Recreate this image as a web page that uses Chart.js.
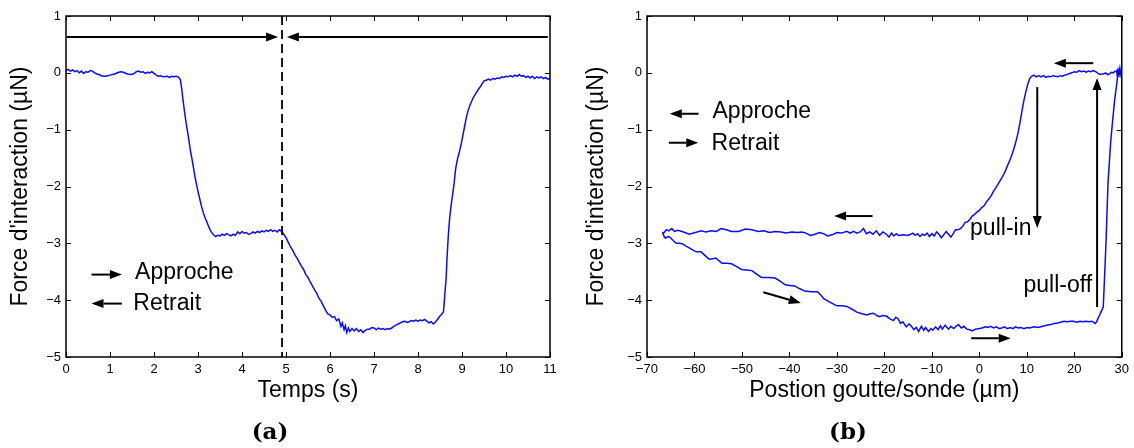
<!DOCTYPE html>
<html>
<head>
<meta charset="utf-8">
<script src="https://cdn.jsdelivr.net/npm/chart.js@4.4.1/dist/chart.umd.min.js"></script>
<style>
  body { margin: 0; background: #fff; width: 1134px; height: 448px; position: relative; overflow: hidden; }
  .panel { position: absolute; top: 0; width: 567px; height: 448px; }
</style>
</head>
<body>
<div class="panel" style="left:0"><canvas id="chartA" width="567" height="448"></canvas></div>
<div class="panel" style="left:567px"><canvas id="chartB" width="567" height="448"></canvas></div>
<script>
// (a) force vs time
const timeS = [
  0.00, 0.05, 0.10, 0.15, 0.20, 0.25, 0.30, 0.35, 0.40, 0.45, 0.50, 0.55, 0.60, 0.65, 0.70, 0.75, 0.80, 0.85, 0.90, 0.95,
  1.00, 1.10, 1.20, 1.25, 1.30, 1.40, 1.50, 1.55, 1.60, 1.65, 1.70, 1.75, 1.80, 1.85, 1.90, 1.95, 2.00, 2.05, 2.10, 2.15,
  2.20, 2.30, 2.35, 2.40, 2.45, 2.50, 2.55, 2.60, 2.63, 2.66, 2.70, 2.73, 2.77, 2.80, 2.83, 2.86, 2.90, 2.93, 2.97, 3.01,
  3.05, 3.08, 3.12, 3.16, 3.20, 3.25, 3.30, 3.35, 3.40, 3.45, 3.50, 3.55, 3.60, 3.65, 3.70, 3.75, 3.80, 3.85, 3.90, 3.95,
  4.00, 4.05, 4.10, 4.15, 4.20, 4.25, 4.30, 4.35, 4.40, 4.45, 4.50, 4.55, 4.60, 4.65, 4.70, 4.75, 4.80, 4.85, 4.90, 4.95,
  5.00, 5.05, 5.10, 5.15, 5.20, 5.25, 5.30, 5.35, 5.40, 5.45, 5.50, 5.55, 5.60, 5.65, 5.70, 5.75, 5.80, 5.85, 5.90, 5.95,
  6.00, 6.05, 6.10, 6.15, 6.20, 6.25, 6.28, 6.32, 6.35, 6.38, 6.42, 6.45, 6.50, 6.55, 6.60, 6.65, 6.70, 6.75, 6.80, 6.85,
  6.90, 6.95, 7.00, 7.05, 7.10, 7.15, 7.20, 7.25, 7.30, 7.35, 7.40, 7.45, 7.50, 7.55, 7.60, 7.65, 7.70, 7.75, 7.80, 7.85,
  7.90, 7.95, 8.00, 8.05, 8.10, 8.15, 8.20, 8.25, 8.30, 8.35, 8.40, 8.45, 8.50, 8.55, 8.58, 8.60, 8.62, 8.64, 8.66, 8.69,
  8.72, 8.75, 8.78, 8.82, 8.85, 8.88, 8.91, 8.95, 8.99, 9.03, 9.07, 9.10, 9.14, 9.18, 9.22, 9.26, 9.30, 9.34, 9.38, 9.42,
  9.46, 9.50, 9.55, 9.60, 9.65, 9.70, 9.75, 9.80, 9.85, 9.90, 9.95, 10.00, 10.05, 10.10, 10.15, 10.20, 10.25, 10.30, 10.35, 10.40,
  10.45, 10.50, 10.55, 10.60, 10.65, 10.70, 10.75, 10.80, 10.85, 10.90, 10.95, 11.00
];
const forceA = [
  0.04, 0.06, 0.03, 0.05, 0.02, 0.04, 0.00, 0.03, -0.01, 0.02, 0.01, 0.04, 0.03, 0.00, -0.02, -0.03, -0.05, -0.06, -0.06, -0.05,
  -0.04, -0.02, 0.01, 0.02, 0.01, -0.02, -0.03, -0.01, 0.02, 0.03, 0.01, 0.02, -0.01, 0.01, 0.00, 0.02, -0.01, -0.04, -0.06, -0.05,
  -0.07, -0.06, -0.08, -0.06, -0.07, -0.06, -0.07, -0.12, -0.28, -0.48, -0.72, -0.88, -1.07, -1.22, -1.38, -1.50, -1.68, -1.82, -1.98, -2.12,
  -2.25, -2.35, -2.46, -2.55, -2.62, -2.72, -2.80, -2.85, -2.88, -2.86, -2.87, -2.84, -2.86, -2.83, -2.85, -2.87, -2.84, -2.86, -2.80, -2.83,
  -2.79, -2.82, -2.81, -2.84, -2.83, -2.80, -2.82, -2.79, -2.81, -2.78, -2.80, -2.77, -2.79, -2.76, -2.79, -2.77, -2.80, -2.76, -2.79, -2.84,
  -2.90, -2.98, -3.06, -3.12, -3.20, -3.26, -3.33, -3.40, -3.46, -3.55, -3.60, -3.68, -3.75, -3.82, -3.88, -3.97, -4.02, -4.10, -4.18, -4.24,
  -4.26, -4.30, -4.29, -4.36, -4.33, -4.46, -4.40, -4.52, -4.45, -4.57, -4.49, -4.55, -4.50, -4.54, -4.50, -4.55, -4.52, -4.57, -4.53, -4.51,
  -4.51, -4.48, -4.49, -4.52, -4.49, -4.51, -4.50, -4.52, -4.50, -4.51, -4.49, -4.46, -4.44, -4.42, -4.40, -4.38, -4.37, -4.39, -4.38, -4.36,
  -4.37, -4.35, -4.37, -4.35, -4.36, -4.34, -4.37, -4.40, -4.38, -4.42, -4.38, -4.33, -4.28, -4.24, -4.20, -4.00, -3.80, -3.62, -3.25, -2.85,
  -2.55, -2.35, -2.18, -1.95, -1.72, -1.58, -1.48, -1.36, -1.22, -1.06, -0.90, -0.78, -0.66, -0.57, -0.50, -0.43, -0.38, -0.33, -0.28, -0.24,
  -0.19, -0.14, -0.13, -0.11, -0.13, -0.10, -0.11, -0.09, -0.10, -0.07, -0.08, -0.06, -0.07, -0.05, -0.07, -0.04, -0.06, -0.03, -0.06, -0.05,
  -0.08, -0.06, -0.09, -0.06, -0.10, -0.07, -0.09, -0.07, -0.10, -0.08, -0.11, -0.10
];

// (b) force vs position: approach branch (30 -> -66.7) then retract branch (-66.7 -> 30)
const approcheX = [
  30.0, 29.8, 29.6, 29.4, 29.2, 29.0, 28.6, 28.2, 27.8, 27.4, 27.0, 26.6, 26.2, 25.8, 25.4, 25.0, 24.5, 24.0, 23.5, 23.0,
  22.5, 22.0, 21.5, 21.0, 20.5, 20.0, 19.5, 19.0, 18.5, 18.0, 17.5, 17.0, 16.5, 16.0, 15.5, 15.0, 14.5, 14.0, 13.5, 13.0,
  12.5, 12.0, 11.5, 11.0, 10.6, 10.2, 9.8, 9.4, 9.0, 8.6, 8.2, 7.8, 7.4, 7.0, 6.5, 6.0, 5.5, 5.0, 4.5, 4.0,
  3.5, 3.0, 2.5, 2.0, 1.5, 1.0, 0.5, 0.0, -0.5, -1.0, -1.5, -2.0, -2.5, -3.0, -3.5, -4.0, -4.5, -5.0, -5.5, -6.0,
  -6.5, -7.0, -7.5, -8.0, -8.5, -9.0, -9.5, -10.0, -10.5, -11.0, -11.5, -12.0, -12.5, -13.0, -13.5, -14.0, -15.0, -16.0, -17.0, -17.5,
  -18.0, -18.5, -19.0, -19.6, -20.3, -21.0, -21.7, -22.4, -23.1, -23.8, -24.4, -25.1, -25.8, -26.5, -27.2, -27.9, -29.0, -30.0, -31.0, -32.0,
  -32.8, -33.7, -34.6, -35.6, -36.5, -37.4, -38.3, -39.5, -40.7, -41.8, -43.0, -44.2, -45.4, -46.6, -47.9, -49.3, -50.7, -52.2, -53.3, -54.4,
  -55.4, -56.5, -57.6, -58.6, -59.8, -61.1, -62.3, -63.5, -64.2, -64.8, -65.4, -65.9, -66.4, -66.7
];
const approcheF = [
  0.05, -0.03, 0.08, -0.02, 0.06, 0.01, 0.03, 0.00, 0.01, -0.02, -0.03, 0.00, -0.02, -0.02, -0.03, -0.01, 0.02, 0.04, 0.02, 0.03,
  0.01, 0.03, 0.02, 0.04, 0.01, 0.02, 0.00, -0.01, -0.03, -0.04, -0.06, -0.05, -0.07, -0.06, -0.05, -0.07, -0.06, -0.08, -0.05, -0.07,
  -0.05, -0.07, -0.04, -0.06, -0.10, -0.20, -0.33, -0.48, -0.66, -0.86, -1.04, -1.18, -1.30, -1.41, -1.52, -1.62, -1.72, -1.81, -1.88, -1.95,
  -2.02, -2.08, -2.16, -2.22, -2.27, -2.34, -2.37, -2.42, -2.45, -2.49, -2.52, -2.58, -2.62, -2.63, -2.70, -2.74, -2.76, -2.76, -2.83, -2.89,
  -2.84, -2.79, -2.85, -2.90, -2.84, -2.80, -2.87, -2.83, -2.88, -2.82, -2.86, -2.84, -2.88, -2.83, -2.86, -2.82, -2.86, -2.85, -2.86, -2.83,
  -2.87, -2.82, -2.89, -2.84, -2.80, -2.86, -2.78, -2.84, -2.80, -2.83, -2.74, -2.80, -2.82, -2.79, -2.82, -2.79, -2.82, -2.81, -2.85, -2.87,
  -2.83, -2.81, -2.84, -2.86, -2.82, -2.80, -2.81, -2.80, -2.82, -2.80, -2.79, -2.81, -2.78, -2.79, -2.76, -2.75, -2.79, -2.79, -2.76, -2.74,
  -2.79, -2.78, -2.80, -2.78, -2.81, -2.84, -2.80, -2.77, -2.79, -2.74, -2.78, -2.76, -2.81, -2.84
];
const retraitX = [
  -66.7, -66.4, -66.1, -65.6, -65.2, -64.5, -63.8, -63.1, -62.5, -61.8, -61.1, -60.3, -59.6, -58.6, -57.7, -56.9, -56.2, -55.5, -54.8, -54.2,
  -53.2, -52.2, -51.1, -50.1, -49.0, -47.9, -46.9, -45.9, -44.4, -43.0, -41.9, -40.9, -39.9, -38.9, -37.8, -36.8, -35.4, -34.1, -33.4, -32.7,
  -31.4, -30.0, -28.9, -27.9, -26.8, -25.8, -24.7, -23.7, -23.0, -22.3, -21.6, -21.0, -20.3, -19.6, -18.8, -18.1, -17.6, -17.1, -16.6, -16.1,
  -15.4, -14.8, -14.3, -13.8, -13.3, -12.8, -12.2, -11.7, -11.3, -10.7, -10.2, -9.8, -9.2, -8.7, -8.2, -7.8, -7.2, -6.5, -6.0, -5.4,
  -4.9, -4.4, -3.8, -3.3, -2.6, -2.0, -1.5, -0.8, 0.0, 0.6, 1.2, 1.8, 2.4, 3.0, 3.6, 4.2, 4.7, 5.3, 5.9, 6.5,
  7.1, 7.6, 8.2, 8.8, 9.4, 10.0, 10.6, 11.5, 12.4, 13.3, 14.2, 15.0, 15.8, 16.5, 17.1, 17.8, 18.5, 19.2, 19.8, 20.5,
  21.2, 21.8, 22.5, 23.1, 23.7, 24.1, 24.4, 24.7, 25.0, 25.3, 25.6, 26.1, 26.4, 26.7, 27.1, 27.4, 27.7, 28.1, 28.5, 28.9,
  29.2, 29.4, 29.6, 29.8, 30.0
];
const retraitF = [
  -2.80, -2.88, -2.91, -2.88, -2.89, -2.95, -3.00, -3.00, -3.01, -3.05, -3.08, -3.12, -3.15, -3.15, -3.22, -3.28, -3.27, -3.26, -3.31, -3.35,
  -3.35, -3.36, -3.41, -3.46, -3.47, -3.48, -3.54, -3.60, -3.60, -3.61, -3.67, -3.73, -3.74, -3.75, -3.80, -3.84, -3.85, -3.85, -3.91, -3.98,
  -4.04, -4.10, -4.10, -4.11, -4.16, -4.21, -4.24, -4.26, -4.24, -4.23, -4.27, -4.29, -4.27, -4.28, -4.33, -4.36, -4.30, -4.33, -4.41, -4.38,
  -4.47, -4.42, -4.46, -4.52, -4.48, -4.55, -4.46, -4.53, -4.48, -4.55, -4.50, -4.53, -4.47, -4.52, -4.45, -4.51, -4.44, -4.51, -4.46, -4.50,
  -4.46, -4.43, -4.49, -4.46, -4.51, -4.52, -4.54, -4.51, -4.50, -4.49, -4.47, -4.48, -4.46, -4.49, -4.47, -4.50, -4.49, -4.47, -4.50, -4.48,
  -4.50, -4.47, -4.49, -4.48, -4.50, -4.48, -4.49, -4.47, -4.48, -4.46, -4.44, -4.43, -4.41, -4.40, -4.39, -4.37, -4.38, -4.37, -4.37, -4.39,
  -4.37, -4.38, -4.37, -4.38, -4.37, -4.39, -4.41, -4.38, -4.32, -4.27, -4.21, -4.12, -3.55, -2.94, -1.94, -1.55, -1.18, -0.82, -0.48, -0.22,
  0.00, -0.04, 0.05, 0.02, 0.06
];

const timeTicks = [0, 1, 2, 3, 4, 5, 6, 7, 8, 9, 10, 11];
const positionTicks = [-70, -60, -50, -40, -30, -20, -10, 0, 10, 20, 30];
const forceTicks = [-5, -4, -3, -2, -1, 0, 1];

const FONT = '"Liberation Sans", Arial, Helvetica, sans-serif';
const BLUE = '#0a0aff';

function fmtTick(v) {
  return v < 0 ? '\u2212' + Math.abs(v) : String(v);
}

function drawArrow(ctx, x1, y1, x2, y2) {
  const ang = Math.atan2(y2 - y1, x2 - x1);
  const len = 12, half = 4.5;
  const bx = x2 - len * Math.cos(ang), by = y2 - len * Math.sin(ang);
  ctx.beginPath();
  ctx.moveTo(x1, y1);
  ctx.lineTo(bx, by);
  ctx.stroke();
  ctx.beginPath();
  ctx.moveTo(x2, y2);
  ctx.lineTo(bx + half * Math.sin(ang), by - half * Math.cos(ang));
  ctx.lineTo(bx - half * Math.sin(ang), by + half * Math.cos(ang));
  ctx.closePath();
  ctx.fill();
}

// box, inward ticks, arrows, notes and the (a)/(b) caption
const frame = {
  id: 'frame',
  afterDatasetsDraw(chart, args, opts) {
    const { ctx, chartArea: a, scales: { x, y } } = chart;
    ctx.save();
    ctx.strokeStyle = '#000';
    ctx.fillStyle = '#000';
    ctx.lineWidth = 1.5;
    ctx.strokeRect(a.left, a.top, a.right - a.left, a.bottom - a.top);

    ctx.lineWidth = 1;
    ctx.beginPath();
    x.ticks.forEach(t => {
      const px = Math.round(x.getPixelForValue(t.value)) + 0.5;
      ctx.moveTo(px, a.bottom); ctx.lineTo(px, a.bottom - 5);
      ctx.moveTo(px, a.top); ctx.lineTo(px, a.top + 5);
    });
    y.ticks.forEach(t => {
      const py = Math.round(y.getPixelForValue(t.value)) + 0.5;
      ctx.moveTo(a.left, py); ctx.lineTo(a.left + 5, py);
      ctx.moveTo(a.right, py); ctx.lineTo(a.right - 5, py);
    });
    ctx.stroke();

    (opts.vlines || []).forEach(v => {
      const px = x.getPixelForValue(v);
      ctx.save();
      ctx.lineWidth = 1.8;
      ctx.setLineDash([9, 5]);
      ctx.beginPath();
      ctx.moveTo(px, a.top);
      ctx.lineTo(px, a.bottom);
      ctx.stroke();
      ctx.restore();
    });

    ctx.lineWidth = 2;
    (opts.arrows || []).forEach(ar => {
      drawArrow(ctx,
        x.getPixelForValue(ar[0]), y.getPixelForValue(ar[1]),
        x.getPixelForValue(ar[2]), y.getPixelForValue(ar[3]));
    });

    ctx.font = '23px ' + FONT;
    ctx.textAlign = 'left';
    ctx.textBaseline = 'middle';
    (opts.notes || []).forEach(n => {
      ctx.fillText(n.text, x.getPixelForValue(n.x), y.getPixelForValue(n.y));
    });

    if (opts.caption) {
      ctx.font = 'bold 23px "DejaVu Serif", "Liberation Serif", serif';
      ctx.textAlign = 'center';
      ctx.fillText(opts.caption.text, opts.caption.x, 433);
    }
    ctx.restore();
  }
};

function makeChart(id, datasets, cfg) {
  return new Chart(document.getElementById(id), {
    type: 'scatter',
    data: { datasets: datasets },
    plugins: [frame],
    options: {
      responsive: false,
      animation: false,
      layout: { padding: { top: 16, right: cfg.padRight, bottom: 0, left: 0 } },
      elements: { point: { radius: 0 }, line: { tension: 0 } },
      scales: {
        x: {
          type: 'linear',
          min: cfg.xTicks[0],
          max: cfg.xTicks[cfg.xTicks.length - 1],
          afterBuildTicks: s => { s.ticks = cfg.xTicks.map(v => ({ value: v })); },
          afterFit: s => { s.height = 91; },
          grid: { display: false, drawTicks: false },
          border: { display: false },
          ticks: { color: '#000', font: { family: FONT, size: 13 }, padding: 5, maxRotation: 0, autoSkip: false, callback: fmtTick },
          title: { display: true, text: cfg.xTitle, color: '#000', font: { family: FONT, size: 23 }, padding: { top: 4, bottom: 44 } }
        },
        y: {
          type: 'linear',
          min: -5,
          max: 1,
          afterBuildTicks: s => { s.ticks = forceTicks.map(v => ({ value: v })); },
          afterFit: s => { s.width = cfg.yWidth; },
          grid: { display: false, drawTicks: false },
          border: { display: false },
          ticks: { color: '#000', font: { family: FONT, size: 13 }, padding: 5, autoSkip: false, callback: fmtTick },
          title: { display: true, text: "Force d'interaction (\u00b5N)", color: '#000', font: { family: FONT, size: 23 }, padding: { top: cfg.yTitlePad, bottom: cfg.yTitlePad } }
        }
      },
      plugins: {
        legend: { display: false },
        tooltip: { enabled: false },
        frame: cfg.frame
      }
    }
  });
}

function toPoints(xs, ys) {
  return xs.map((v, i) => ({ x: v, y: ys[i] }));
}

makeChart('chartA', [
  { data: toPoints(timeS, forceA), showLine: true, borderColor: BLUE, borderWidth: 1.5 }
], {
  xTicks: timeTicks,
  xTitle: 'Temps (s)',
  padRight: 17,
  yWidth: 66,
  yTitlePad: 7,
  frame: {
    vlines: [4.91],
    arrows: [[0.02, 0.63, 4.82, 0.63], [10.95, 0.63, 5.02, 0.63], [0.58, -3.55, 1.27, -3.55], [1.27, -4.06, 0.58, -4.06]],
    notes: [{ text: 'Approche', x: 1.57, y: -3.52 }, { text: 'Retrait', x: 1.53, y: -4.07 }],
    caption: { text: '(a)', x: 270 }
  }
});

makeChart('chartB', [
  { data: toPoints(approcheX, approcheF), showLine: true, borderColor: BLUE, borderWidth: 1.5 },
  { data: toPoints(retraitX, retraitF), showLine: true, borderColor: BLUE, borderWidth: 1.5 }
], {
  xTicks: positionTicks,
  xTitle: 'Postion goutte/sonde (\u00b5m)',
  padRight: 5,
  yWidth: 80,
  yTitlePad: 16,
  frame: {
    arrows: [
      [-59.15, -0.72, -65.2, -0.72], [-65.4, -1.23, -59.2, -1.23],
      [24.0, 0.17, 15.7, 0.17],
      [12.2, -0.25, 12.2, -2.73],
      [24.8, -4.12, 24.8, -0.09],
      [-22.5, -2.52, -30.6, -2.52],
      [-45.5, -3.86, -37.6, -4.05],
      [-1.7, -4.67, 6.6, -4.67]
    ],
    notes: [
      { text: 'Approche', x: -56.2, y: -0.68 }, { text: 'Retrait', x: -56.4, y: -1.24 },
      { text: 'pull-in', x: -1.95, y: -2.75 }, { text: 'pull-off', x: 9.3, y: -3.75 }
    ],
    caption: { text: '(b)', x: 281 }
  }
});
</script>
</body>
</html>
